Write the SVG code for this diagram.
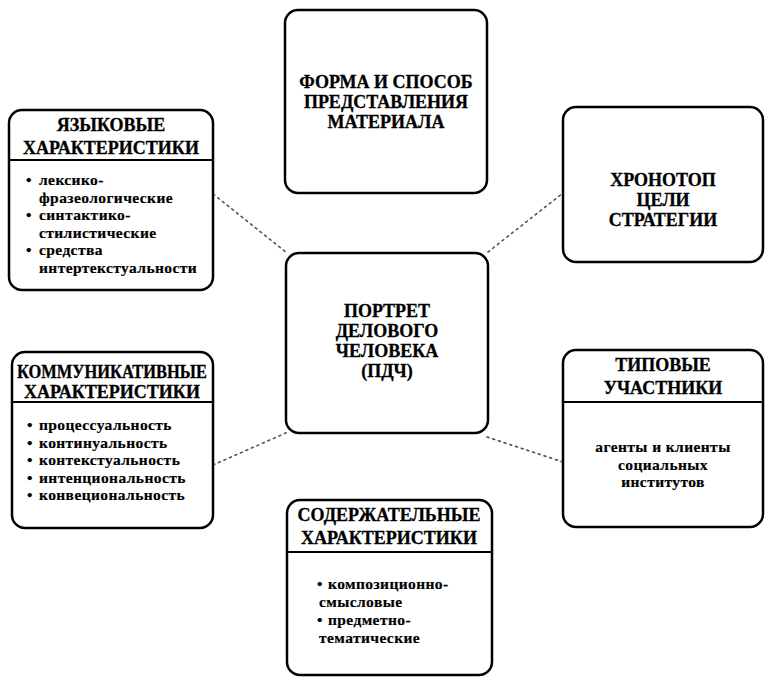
<svg xmlns="http://www.w3.org/2000/svg" width="771" height="680" viewBox="0 0 771 680">
<style>
.box{fill:#fff;stroke:#000;stroke-width:2.5}
.div{stroke:#000;stroke-width:2}
.h{font-family:"Liberation Serif","Times New Roman",serif;font-weight:bold;font-size:18px;fill:#000;stroke:#000;stroke-width:0.3;text-anchor:middle}
.b{font-family:"Liberation Serif","Times New Roman",serif;font-weight:bold;font-size:15.5px;letter-spacing:0.4px;fill:#000;stroke:#000;stroke-width:0.2}
.bc{font-family:"Liberation Serif","Times New Roman",serif;font-weight:bold;font-size:15.5px;letter-spacing:0.4px;fill:#000;stroke:#000;stroke-width:0.2;text-anchor:middle}
.con{stroke:#555;stroke-width:1.6;stroke-dasharray:2 4;fill:none;stroke-linecap:round}
</style>
<rect width="771" height="680" fill="#fff"/>
<g id="connectors">
<line class="con" x1="213" y1="194" x2="287" y2="253"/>
<line class="con" x1="488" y1="252" x2="563" y2="193"/>
<line class="con" x1="213" y1="465" x2="288" y2="432"/>
<line class="con" x1="487" y1="437" x2="563" y2="462"/>
</g>
<g id="yazykovye">
<rect class="box" x="9" y="110" width="204" height="180" rx="13"/>
<line class="div" x1="9" y1="160" x2="213" y2="160"/>
<text class="h" x="111" y="131">ЯЗЫКОВЫЕ</text>
<text class="h" x="111" y="154">ХАРАКТЕРИСТИКИ</text>
<text class="b" x="26" y="185">•<tspan x="39">лексико-</tspan></text>
<text class="b" x="39" y="202.5">фразеологические</text>
<text class="b" x="26" y="220">•<tspan x="39">синтактико-</tspan></text>
<text class="b" x="39" y="237.5">стилистические</text>
<text class="b" x="26" y="255">•<tspan x="39">средства</tspan></text>
<text class="b" x="39" y="272.5">интертекстуальности</text>
</g>
<g id="forma">
<rect class="box" x="285" y="10" width="202" height="183" rx="13"/>
<text class="h" x="386" y="88">ФОРМА И СПОСОБ</text>
<text class="h" x="386" y="108">ПРЕДСТАВЛЕНИЯ</text>
<text class="h" x="386" y="128">МАТЕРИАЛА</text>
</g>
<g id="hronotop">
<rect class="box" x="563" y="107" width="200" height="155" rx="13"/>
<text class="h" x="663" y="186">ХРОНОТОП</text>
<text class="h" x="663" y="206">ЦЕЛИ</text>
<text class="h" x="663" y="226">СТРАТЕГИИ</text>
</g>
<g id="center">
<rect class="box" x="286" y="253" width="202" height="180" rx="13"/>
<text class="h" x="387" y="317">ПОРТРЕТ</text>
<text class="h" x="387" y="337">ДЕЛОВОГО</text>
<text class="h" x="387" y="357">ЧЕЛОВЕКА</text>
<text class="h" x="387" y="377">(ПДЧ)</text>
</g>
<g id="kommunikativnye">
<rect class="box" x="12" y="352" width="201" height="176" rx="13"/>
<line class="div" x1="12" y1="402" x2="213" y2="402"/>
<text class="h" x="112" y="378" textLength="190" lengthAdjust="spacingAndGlyphs">КОММУНИКАТИВНЫЕ</text>
<text class="h" x="112" y="398">ХАРАКТЕРИСТИКИ</text>
<text class="b" x="27" y="430">•<tspan x="39">процессуальность</tspan></text>
<text class="b" x="27" y="447.5">•<tspan x="39">континуальность</tspan></text>
<text class="b" x="27" y="465">•<tspan x="39">контекстуальность</tspan></text>
<text class="b" x="27" y="482.5">•<tspan x="39">интенциональность</tspan></text>
<text class="b" x="27" y="500">•<tspan x="39">конвециональность</tspan></text>
</g>
<g id="tipovye">
<rect class="box" x="563" y="350" width="200" height="177" rx="13"/>
<line class="div" x1="563" y1="402" x2="763" y2="402"/>
<text class="h" x="663" y="371">ТИПОВЫЕ</text>
<text class="h" x="663" y="394">УЧАСТНИКИ</text>
<text class="bc" x="663" y="452">агенты и клиенты</text>
<text class="bc" x="663" y="469.5">социальных</text>
<text class="bc" x="663" y="487">институтов</text>
</g>
<g id="soderzhatelnye">
<rect class="box" x="287" y="500" width="205" height="175" rx="13"/>
<line class="div" x1="287" y1="552" x2="492" y2="552"/>
<text class="h" x="389" y="521">СОДЕРЖАТЕЛЬНЫЕ</text>
<text class="h" x="389" y="544">ХАРАКТЕРИСТИКИ</text>
<text class="b" x="317" y="589">•<tspan x="328">композиционно-</tspan></text>
<text class="b" x="319" y="607">смысловые</text>
<text class="b" x="317" y="625">•<tspan x="328">предметно-</tspan></text>
<text class="b" x="319" y="643">тематические</text>
</g>
</svg>
